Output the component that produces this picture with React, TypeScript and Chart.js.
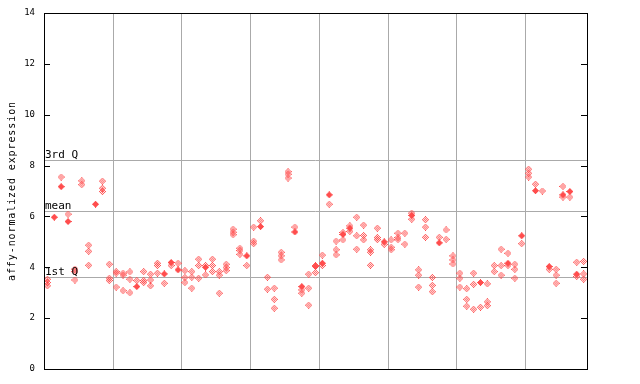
import React, { useEffect, useRef } from "react";
import { Chart, registerables } from "chart.js";

Chart.register(...registerables);

const yTicks = [0, 2, 4, 6, 8, 10, 12, 14];
const groupBoundaries = [10, 20, 30, 40, 50, 60, 70];
const sampleCount = 79;
const yAxisTitle = "affy-normalized expression";
const quartileLabels = ["3rd Q", "mean", "1st Q"];
const quartileValues = [8.22, 6.22, 3.62];

const hollowValues: number[][] = [
  [3.27, 3.4, 3.53], [], [7.55], [6.09], [3.5, 3.83, 3.93],
  [7.25, 7.4], [4.08, 4.63, 4.87], [], [6.98, 7.11, 7.39], [3.48, 3.57, 4.12],
  [3.22, 3.77, 3.83], [3.08, 3.69, 3.77], [3.0, 3.53, 3.82], [3.48], [3.4, 3.48, 3.83],
  [3.27, 3.5, 3.73], [3.77, 4.07, 4.16], [3.37], [4.07], [4.16],
  [3.4, 3.6, 3.87], [3.18, 3.61, 3.83], [3.57, 4.07, 4.32], [3.7, 4.07], [3.83, 4.07, 4.32],
  [2.98, 3.69, 3.83], [3.87, 3.99, 4.12], [5.28, 5.38, 5.5], [4.51, 4.66, 4.75], [4.07],
  [4.93, 5.03, 5.58], [5.83], [3.14, 3.61], [2.39, 2.74, 3.18], [4.29, 4.45, 4.59],
  [7.51, 7.66, 7.76], [5.58], [2.98, 3.11], [2.51, 3.18, 3.73], [3.79, 4.07],
  [4.07, 4.48], [6.48], [4.49, 4.69, 5.03], [5.08, 5.37], [5.41, 5.63],
  [4.71, 5.24, 5.97], [5.08, 5.25, 5.66], [4.08, 4.59, 4.69], [5.09, 5.17, 5.54], [4.9],
  [4.69, 4.79, 5.08], [5.09, 5.17, 5.34], [4.91, 5.34], [5.89, 6.13], [3.22, 3.69, 3.9],
  [5.18, 5.58, 5.87], [3.04, 3.29, 3.6], [5.18], [5.1, 5.47], [4.13, 4.29, 4.45],
  [3.22, 3.57, 3.77], [2.47, 2.74, 3.16], [2.35, 3.33, 3.77], [2.43], [2.49, 2.64, 3.35],
  [3.83, 4.07], [3.69, 4.07, 4.71], [4.07, 4.55], [3.57, 3.92, 4.12], [4.93],
  [7.55, 7.7, 7.86], [7.27], [7.0], [3.92], [3.37, 3.69, 3.92],
  [6.76, 7.18], [6.76], [3.64, 4.2], [3.53, 3.74, 4.23],
];

const filledValues: (number | null)[] = [
  null, 5.97, 7.17, 5.8, null, null, null, 6.48, null, null,
  null, null, null, 3.24, null, null, null, 3.74, 4.19, 3.9,
  null, null, null, 4.0, null, null, null, null, null, 4.45,
  null, 5.6, null, null, null, null, 5.39, 3.24, null, 4.03,
  4.16, 6.85, null, 5.29, 5.54, null, null, null, null, 5.0,
  null, null, null, 6.04, null, null, null, 4.96, null, null,
  null, null, null, 3.4, null, null, null, 4.16, null, 5.24,
  null, 7.01, null, 4.03, null, 6.85, 6.98, 3.73, null,
];

const RED = "#ff4d4d";
const GRID = "#aaaaaa";
const MONO = "'DejaVu Sans Mono', monospace";

function makeDiamond(solid: boolean): HTMLCanvasElement {
  const c = document.createElement("canvas");
  c.width = 7;
  c.height = 7;
  const ctx = c.getContext("2d")!;
  ctx.fillStyle = RED;
  for (let y = 0; y < 7; y++) {
    for (let x = 0; x < 7; x++) {
      const d = Math.abs(x - 3) + Math.abs(y - 3);
      if (d > 3) continue;
      if (solid || d % 2 === 1) ctx.fillRect(x, y, 1, 1);
    }
  }
  return c;
}

const framePlugin = {
  id: "framePlugin",
  beforeDatasetsDraw(chart: any) {
    const { ctx, chartArea: a, scales } = chart;
    const x = scales.x;
    const y = scales.y;
    ctx.save();
    ctx.strokeStyle = GRID;
    ctx.lineWidth = 1;
    ctx.beginPath();
    for (const b of groupBoundaries) {
      const px = Math.round(x.getPixelForValue(b)) + 0.5;
      ctx.moveTo(px, a.top);
      ctx.lineTo(px, a.bottom);
    }
    for (const q of quartileValues) {
      const py = Math.round(y.getPixelForValue(q)) + 0.5;
      ctx.moveTo(a.left, py);
      ctx.lineTo(a.right, py);
    }
    ctx.stroke();
    ctx.restore();
  },
  afterDraw(chart: any) {
    const { ctx, chartArea: a, scales } = chart;
    const y = scales.y;
    ctx.save();
    ctx.strokeStyle = "#000";
    ctx.lineWidth = 1;
    ctx.strokeRect(a.left + 0.5, a.top + 0.5, a.right - a.left, a.bottom - a.top);
    ctx.beginPath();
    for (const t of yTicks) {
      const py = Math.round(y.getPixelForValue(t)) + 0.5;
      ctx.moveTo(a.left, py);
      ctx.lineTo(a.left + 6, py);
      ctx.moveTo(a.right, py);
      ctx.lineTo(a.right - 6, py);
    }
    ctx.stroke();

    ctx.fillStyle = "#000";
    ctx.font = `9px ${MONO}`;
    ctx.textAlign = "right";
    ctx.textBaseline = "middle";
    for (const t of yTicks) {
      ctx.fillText(String(t), a.left - 9, y.getPixelForValue(t));
    }

    ctx.font = `11px ${MONO}`;
    ctx.textAlign = "left";
    ctx.textBaseline = "alphabetic";
    quartileLabels.forEach((lbl, i) => {
      ctx.fillText(lbl, a.left + 1, y.getPixelForValue(quartileValues[i]) - 2);
    });

    ctx.translate(15, (a.top + a.bottom) / 2);
    ctx.rotate(-Math.PI / 2);
    ctx.font = `10px ${MONO}`;
    (ctx as any).letterSpacing = "0.9px";
    ctx.textAlign = "center";
    ctx.textBaseline = "alphabetic";
    ctx.fillText(yAxisTitle, 0, 0);
    ctx.restore();
  },
};

export default function App() {
  const ref = useRef<HTMLCanvasElement | null>(null);

  useEffect(() => {
    document.body.style.margin = "0";
    const hollowData = hollowValues.flatMap((vals, i) =>
      vals.map((v) => ({ x: i + 0.5, y: v }))
    );
    const filledData = filledValues
      .map((v, i) => (v === null ? null : { x: i + 0.5, y: v }))
      .filter((p) => p !== null);
    const chart = new Chart(ref.current!, {
      type: "scatter",
      data: {
        datasets: [
          {
            label: "replicates",
            data: hollowData as any,
            pointStyle: makeDiamond(false) as any,
            pointRadius: 3.5,
          },
          {
            label: "filled",
            data: filledData as any,
            pointStyle: makeDiamond(true) as any,
            pointRadius: 3.5,
          },
        ],
      },
      options: {
        responsive: false,
        animation: false,
        layout: { padding: { left: 44, top: 13, right: 53, bottom: 15 } },
        plugins: { legend: { display: false }, tooltip: { enabled: false } },
        scales: {
          x: { type: "linear", min: 0, max: sampleCount, display: false },
          y: { type: "linear", min: 0, max: 14, display: false },
        },
      },
      plugins: [framePlugin],
    });
    return () => chart.destroy();
  }, []);

  return <canvas ref={ref} width={640} height={384} style={{ display: "block" }} />;
}
